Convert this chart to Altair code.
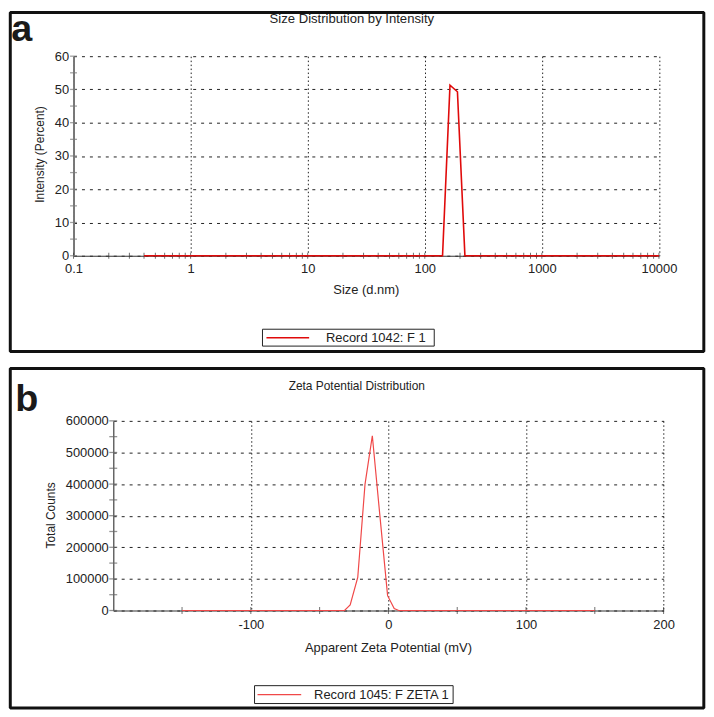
import altair as alt
import pandas as pd

FONT = "Liberation Sans"
TXT = "#222222"

# ---------------- Panel a: size distribution by intensity ----------------
size_nm = [0.4, 141.8, 164.2, 190.1, 220.2, 10000]
intensity_pct = [0, 0, 51.3, 49.3, 0, 0]
size_ticks = [0.1, 1, 10, 100, 1000, 10000]
intensity_ticks = [0, 10, 20, 30, 40, 50, 60]
intensity_minor = [0, 5, 10, 15, 20, 25, 30, 35, 40, 45, 50, 55, 60]
size_minor = [m * 10 ** e for e in range(-1, 4) for m in range(1, 10)] + [10000]

# ---------------- Panel b: zeta potential distribution ----------------
zeta_mv = [-150, -31.9, -27.8, -22.3, -17.0, -11.7, -6.4, -0.6, 4.2, 7.5, 150]
total_counts = [0, 0, 17600, 104600, 400000, 553000, 309000, 47000, 6000, 0, 0]
zeta_ticks = [-100, 0, 100, 200]
zeta_minor = [-150, -100, -50, 0, 50, 100, 150, 200]
count_ticks = [0, 100000, 200000, 300000, 400000, 500000, 600000]
count_minor = [0, 50000, 100000, 150000, 200000, 250000, 300000, 350000,
               400000, 450000, 500000, 550000, 600000]

one = pd.DataFrame({"k": [0]})

# plot areas (page px): a -> x 74.7..664.3, y 55..256 ; b -> x 114.7..669, y 422.3..613.3
WA, HA = 589.6, 201
WB, HB = 554.3, 191


def txt(s, x, y, size=13, align="center", weight="normal", angle=0, baseline="middle", color=TXT):
    return alt.Chart(one).mark_text(
        text=s, font=FONT, fontSize=size, fontWeight=weight, align=align,
        baseline=baseline, angle=angle, color=color
    ).encode(x=alt.value(x), y=alt.value(y))


def box(x, x2, y, y2, sw, color):
    return alt.Chart(one).mark_rect(fillOpacity=0, stroke=color, strokeWidth=sw,
                                    strokeJoin="bevel").encode(
        x=alt.value(x), x2=alt.value(x2), y=alt.value(y), y2=alt.value(y2))


def seg(x, x2, y, color, sw):
    return alt.Chart(one).mark_rule(color=color, strokeWidth=sw).encode(
        x=alt.value(x), x2=alt.value(x2), y=alt.value(y))


# ---- top chart ----
xa = alt.X("size:Q", scale=alt.Scale(type="log", domain=[0.1, 10000], nice=False),
           axis=alt.Axis(values=size_ticks, labelExpr="datum.value + ''", title=None,
                         grid=True, gridDash=[1.5, 2.5], gridColor="#222", ticks=False,
                         labelPadding=7, labelFlush=False, labelOverlap=False,
                         domainColor="#333", domainWidth=1.2))
ya = alt.Y("intensity:Q", scale=alt.Scale(domain=[0, 60], nice=False),
           axis=alt.Axis(values=intensity_ticks, labelExpr="datum.value + ''", title=None,
                         grid=True, gridDash=[3, 5], gridColor="#222", ticks=False,
                         labelPadding=5, labelFlush=False, labelOverlap=False,
                         domainColor="#777", domainWidth=2))

df_a = pd.DataFrame({"size": size_nm, "intensity": intensity_pct})
xtick_a = alt.Chart(pd.DataFrame({"size": size_minor, "intensity": 0})).mark_tick(
    orient="vertical", size=6, thickness=1, color="#333").encode(x=xa, y=ya)
ytick_a = alt.Chart(pd.DataFrame({"intensity": intensity_minor, "size": size_ticks[0]})).mark_tick(
    orient="horizontal", size=7, thickness=1.3, color="#777").encode(x=xa, y=ya)
line_a = alt.Chart(df_a).mark_line(color="#e00a0a", strokeWidth=1.6).encode(x=xa, y=ya)

top = alt.layer(
    xtick_a, ytick_a, line_a,
    txt("Size Distribution by Intensity", 280.3, -37, size=13.2),
    txt("a", -62.7, -15, size=38, align="left", weight="bold", baseline="alphabetic", color="#1a1a1a"),
    txt("Intensity (Percent)", -33.7, 99, size=12, angle=270),
    txt("Size (d.nm)", 294.8, 235.7, size=13),
    box(-63.7, 634.8, -44, 297.5, 3, "#111"),
    box(190.3, 363.3, 275, 292, 1, "#222"),
    seg(194.3, 237.3, 283.5, "#e00a0a", 1.5),
    txt("Record 1042: F 1", 254.3, 283.5, size=13, align="left"),
).properties(width=WA, height=HA)

# ---- bottom chart ----
xb = alt.X("zeta:Q", scale=alt.Scale(domain=[-200, 200], nice=False),
           axis=alt.Axis(values=zeta_ticks, labelExpr="datum.value + ''", title=None,
                         grid=True, gridDash=[1.5, 2.5], gridColor="#222", ticks=False,
                         labelPadding=8, labelFlush=False, labelOverlap=False,
                         domainColor="#333", domainWidth=1.2))
yb = alt.Y("counts:Q", scale=alt.Scale(domain=[0, 600000], nice=False),
           axis=alt.Axis(values=count_ticks, labelExpr="datum.value + ''", title=None,
                         grid=True, gridDash=[3, 5], gridColor="#222", ticks=False,
                         labelPadding=5, labelFlush=False, labelOverlap=False,
                         domainColor="#666", domainWidth=1.5))

df_b = pd.DataFrame({"zeta": zeta_mv, "counts": total_counts})
xtick_b = alt.Chart(pd.DataFrame({"zeta": zeta_minor, "counts": 0})).mark_tick(
    orient="vertical", size=7, thickness=1, color="#333").encode(x=xb, y=yb)
ytick_b = alt.Chart(pd.DataFrame({"counts": count_minor, "zeta": -200})).mark_tick(
    orient="horizontal", size=8, thickness=1.3, color="#666").encode(x=xb, y=yb)
line_b = alt.Chart(df_b).mark_line(color="#f04848", strokeWidth=1.2).encode(x=xb, y=yb)

bottom = alt.layer(
    xtick_b, ytick_b, line_b,
    txt("Zeta Potential Distribution", 245.3, -35.3, size=12),
    txt("b", -98.7, -10.3, size=38, align="left", weight="bold", baseline="alphabetic", color="#1a1a1a"),
    txt("Total Counts", -63, 95.2, size=12, angle=270),
    txt("Apparent Zeta Potential (mV)", 277.2, 228.3, size=13),
    box(-103.7, 594.8, -52.8, 289.2, 3, "#111"),
    box(142.3, 342.3, 266.7, 284.7, 1, "#222"),
    seg(145.3, 189.3, 275.7, "#f04848", 1.3),
    txt("Record 1045: F ZETA 1", 202.3, 275.7, size=13, align="left"),
).properties(width=WB, height=HB)

spacer = alt.Chart(one).mark_point(opacity=0).encode(
    x=alt.X("k:Q", axis=None), y=alt.Y("k:Q", axis=None)).properties(width=40, height=HB)

row_b = alt.hconcat(spacer, bottom, spacing=0, bounds="flush")

chart = alt.vconcat(top, row_b, spacing=166.3, bounds="flush").properties(
    padding=0, background="white"
).configure_view(stroke=None).configure_axis(
    labelFont=FONT, labelFontSize=13, labelColor=TXT
)

chart.save("out.html", embed_options={"renderer": "svg", "actions": False})
